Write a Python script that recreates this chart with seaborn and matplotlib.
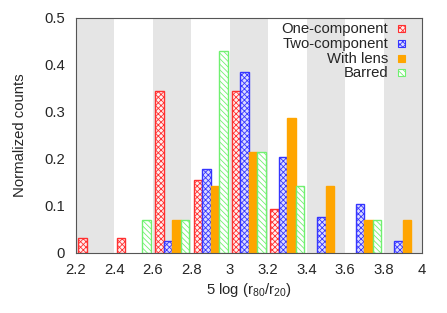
import numpy as np
import pandas as pd
import seaborn as sns
import matplotlib.pyplot as plt
from matplotlib.patches import Rectangle

sns.set_style("white")
plt.rcParams['font.family'] = ['Liberation Sans', 'DejaVu Sans']
plt.rcParams['mathtext.fontset'] = 'custom'
plt.rcParams['mathtext.rm'] = 'Liberation Sans'
plt.rcParams['mathtext.it'] = 'Liberation Sans'
plt.rcParams['hatch.linewidth'] = 0.6

FS = 10.7

# bin centres of 5 log(r80/r20), bin width 0.2
bins = [2.3, 2.5, 2.7, 2.9, 3.1, 3.3, 3.5, 3.7, 3.9]
one_comp = [0.031, 0.031, 0.344, 0.156, 0.344, 0.094, 0.0, 0.0, 0.0]
two_comp = [0.0, 0.0, 0.026, 0.179, 0.385, 0.205, 0.077, 0.103, 0.026]
with_lens = [0.0, 0.0, 0.071, 0.143, 0.214, 0.286, 0.143, 0.071, 0.071]
barred = [0.0, 0.071, 0.071, 0.429, 0.214, 0.143, 0.0, 0.071, 0.0]
groups = ["One-component", "Two-component", "With lens", "Barred"]

df = pd.DataFrame({
    "x": bins * 4,
    "y": one_comp + two_comp + with_lens + barred,
    "group": np.repeat(groups, len(bins)),
})

styles = {
    "One-component": dict(fc="#fff0f0", ec="#ff3030", hatch="xxxxxx"),
    "Two-component": dict(fc="#dcdcff", ec="#3535ff", hatch="xxxxxx"),
    "With lens": dict(fc="#ffa500", ec="#ffa500", hatch=None),
    "Barred": dict(fc="white", ec="#70f070", hatch="\\\\\\\\\\\\"),
}

fig = plt.figure(figsize=(4.47, 3.13), dpi=100)
ax = fig.add_axes([0.170, 0.192, 0.774, 0.751])

# alternating grey bands
for start in [2.2, 2.6, 3.0, 3.4, 3.8]:
    ax.axvspan(start, start + 0.2, color="#e5e5e5", lw=0, zorder=0)

sns.barplot(data=df, x="x", y="y", hue="group", hue_order=groups,
            native_scale=True, width=0.885, errorbar=None, legend=False,
            ax=ax, zorder=2)

for cont, g in zip(ax.containers, groups):
    st = styles[g]
    for p in cont.patches:
        p.set_facecolor(st["fc"])
        p.set_edgecolor(st["ec"])
        p.set_linewidth(1.0)
        if st["hatch"]:
            p.set_hatch(st["hatch"])
        if p.get_height() <= 0:
            p.set_visible(False)

ax.set_xlim(2.2, 4.0)
ax.set_ylim(0, 0.5)
ax.set_xticks([2.2, 2.4, 2.6, 2.8, 3.0, 3.2, 3.4, 3.6, 3.8, 4.0])
ax.set_xticklabels(["2.2", "2.4", "2.6", "2.8", "3", "3.2", "3.4", "3.6", "3.8", "4"])
ax.set_yticks([0, 0.1, 0.2, 0.3, 0.4, 0.5])
ax.set_yticklabels(["0", "0.1", "0.2", "0.3", "0.4", "0.5"])
ax.tick_params(length=0, labelsize=FS)
ax.tick_params(axis="x", pad=7)
ax.tick_params(axis="y", pad=8)
ax.set_xlabel("5 log (r$_{80}$/r$_{20}$)", fontsize=FS, labelpad=3)
ax.set_ylabel("Normalized counts", fontsize=FS, labelpad=12)
for s in ax.spines.values():
    s.set_color("#555555")
    s.set_linewidth(0.8)
    s.set_zorder(5)

# legend in gnuplot style: text right-aligned, key box to the right
ys = [0.953, 0.890, 0.827, 0.766]
for g, yy in zip(groups, ys):
    st = styles[g]
    ax.text(0.902, yy, g, transform=ax.transAxes, ha="right", va="center",
            fontsize=FS, zorder=6)
    ax.add_patch(Rectangle((0.932, yy - 0.015), 0.018, 0.03, transform=ax.transAxes,
                           fc=st["fc"], ec=st["ec"], hatch=st["hatch"], lw=0.8,
                           zorder=6, clip_on=False))

fig.savefig("out.png", dpi=100)
